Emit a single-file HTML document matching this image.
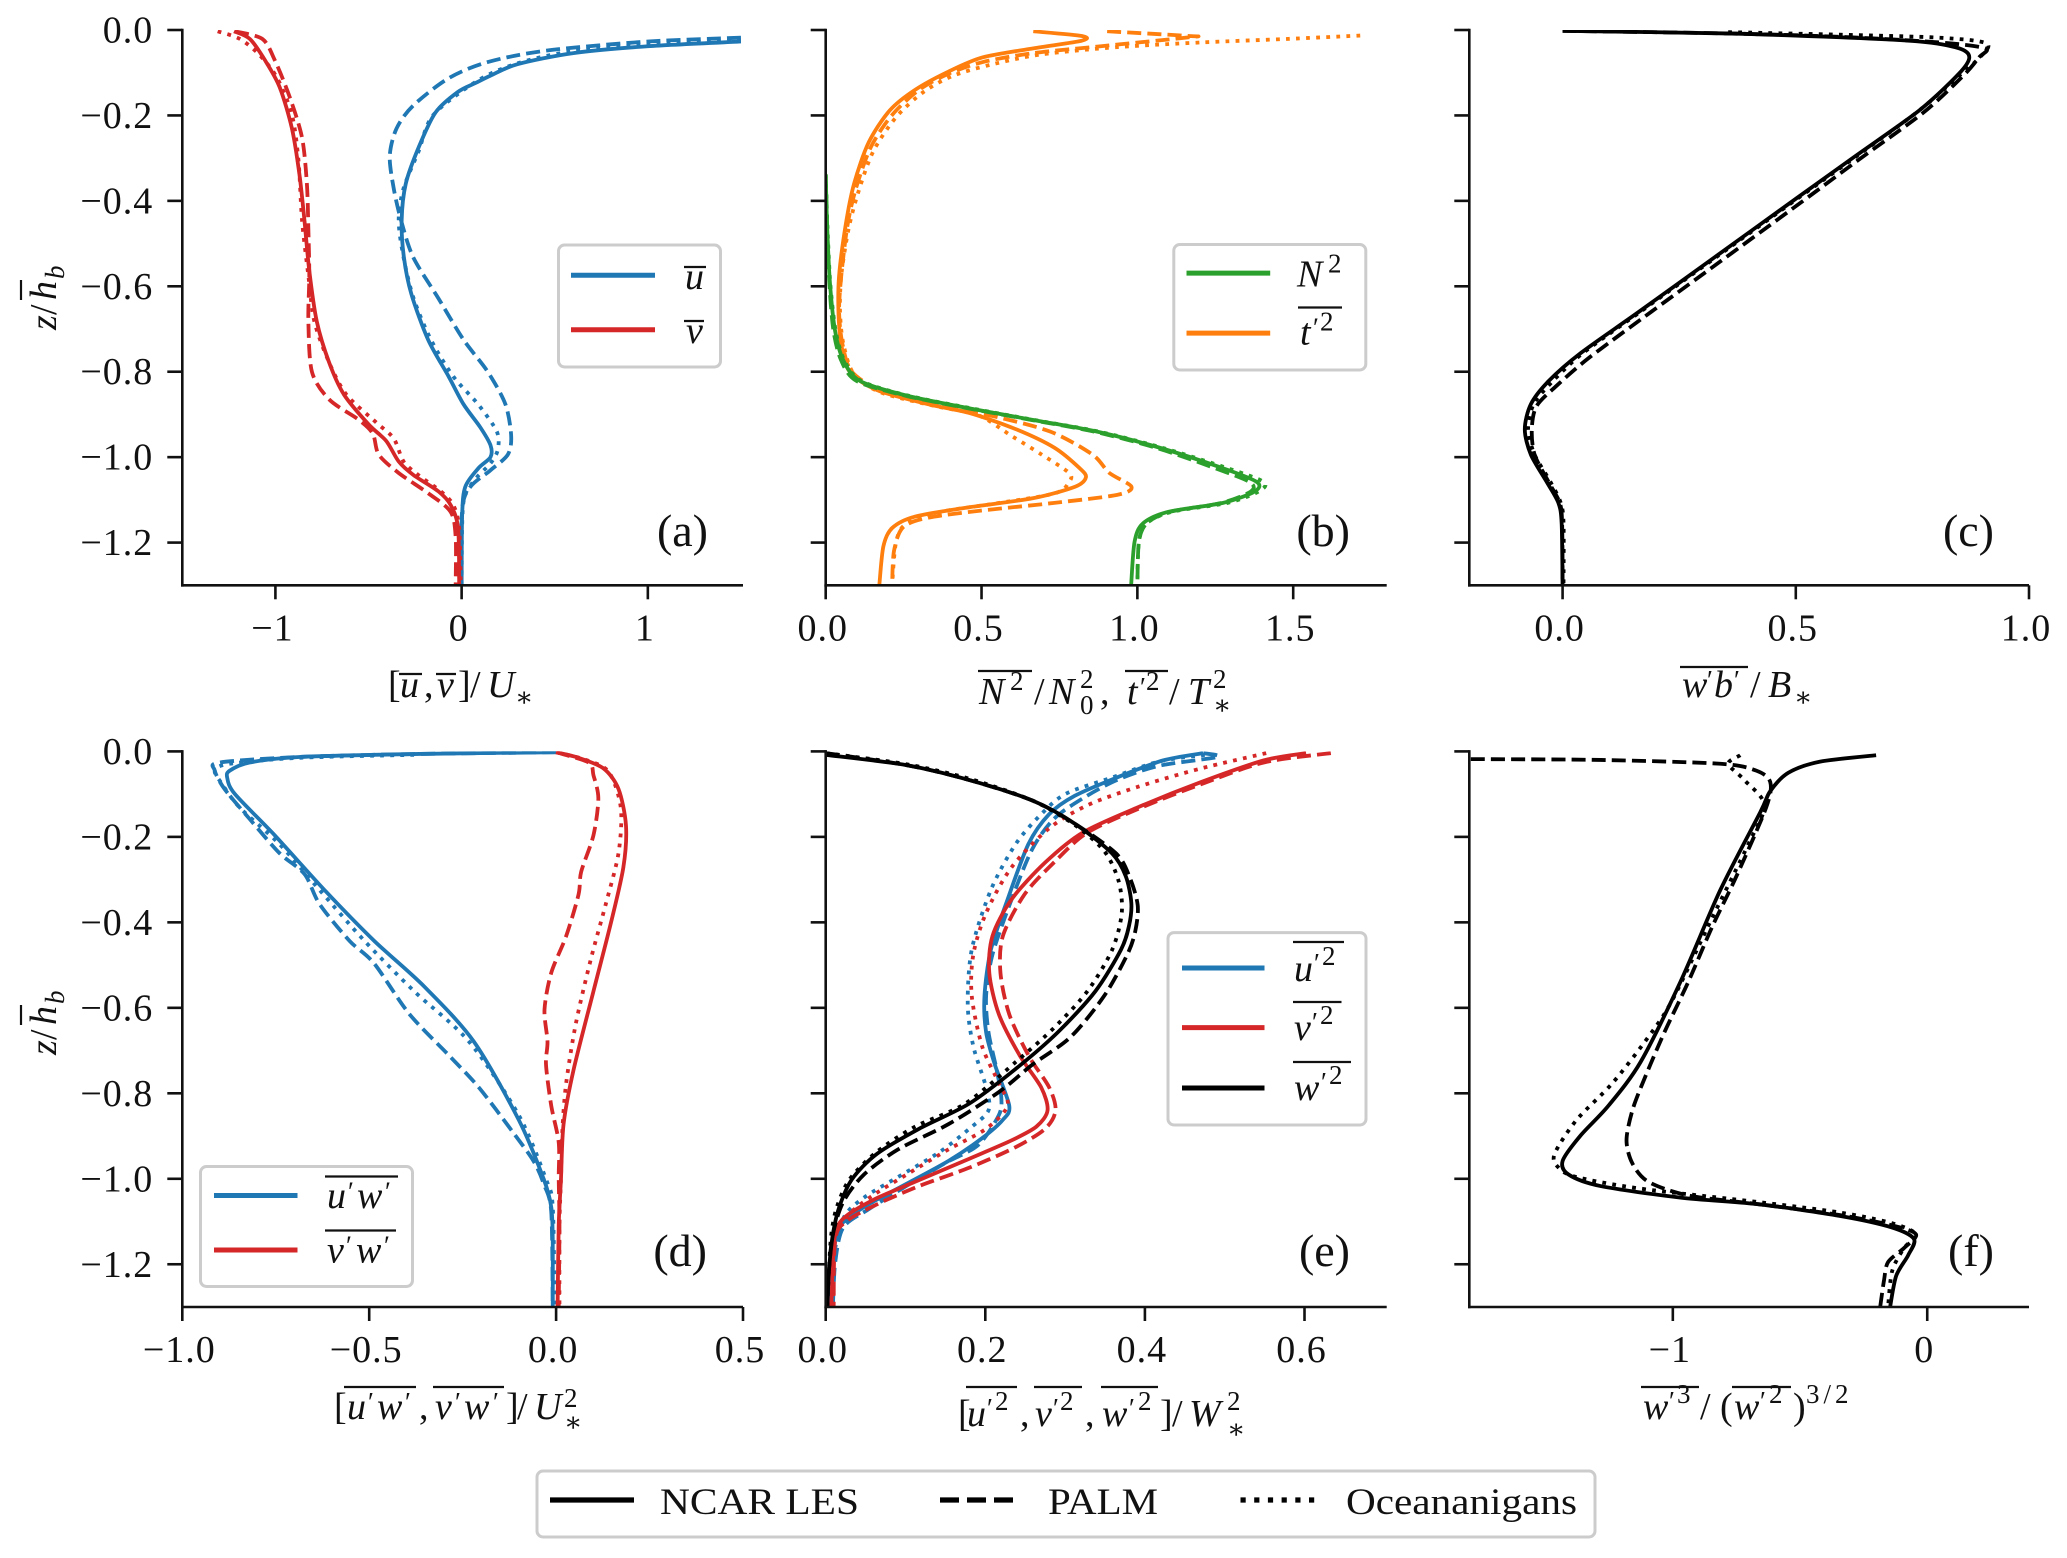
<!DOCTYPE html>
<html lang="en">
<head>
<meta charset="utf-8">
<title>Vertical profiles comparing NCAR LES, PALM and Oceananigans</title>
<style>
html,body{margin:0;padding:0;background:#fff;}
svg{display:block;}
text{font-family:"Liberation Serif","DejaVu Serif",serif;fill:#111;}
.m{font-size:38px;}
.tick{font-size:38px;letter-spacing:1px;}
.i{font-style:italic;}
.s{font-size:27px;}
.s2{font-size:27px;font-style:italic;}
.ov{stroke:#111;stroke-width:2.2;fill:none;}
.lg{fill:#fff;stroke:#ccc;stroke-width:3;}
.pl{font-size:46px;text-anchor:end;}
</style>
</head>
<body>
<svg id="fig" xmlns="http://www.w3.org/2000/svg" width="2067" height="1558" viewBox="0 0 2067 1558">
<defs>
<clipPath id="clip-a"><rect x="182.3" y="30" width="560.7" height="555.3"/></clipPath>
<clipPath id="clip-b"><rect x="825.7" y="30" width="561" height="555.3"/></clipPath>
<clipPath id="clip-c"><rect x="1469.3" y="30" width="559.7" height="555.3"/></clipPath>
<clipPath id="clip-d"><rect x="182.3" y="751.4" width="560.7" height="555.6"/></clipPath>
<clipPath id="clip-e"><rect x="825.7" y="751.4" width="561" height="555.6"/></clipPath>
<clipPath id="clip-f"><rect x="1469.3" y="751.4" width="559.7" height="555.6"/></clipPath>
</defs>

<g id="plots"></g>

<!-- axis titles -->
<g transform="translate(56,330) rotate(-90)">
<text class="m"><tspan class="i" x="0" y="0">z</tspan><tspan x="15" y="0">/</tspan><tspan class="i" x="30" y="0">h</tspan><tspan class="s2" x="51" y="8">b</tspan></text>
<line class="ov" x1="30" x2="50" y1="-35" y2="-35"/>
</g>
<g transform="translate(56,1055) rotate(-90)">
<text class="m"><tspan class="i" x="0" y="0">z</tspan><tspan x="15" y="0">/</tspan><tspan class="i" x="30" y="0">h</tspan><tspan class="s2" x="51" y="8">b</tspan></text>
<line class="ov" x1="30" x2="50" y1="-35" y2="-35"/>
</g>

<g transform="translate(-4,0)">
<text class="m"><tspan x="392" y="697">[</tspan><tspan class="i" x="404" y="697">u</tspan><tspan x="428" y="697">,</tspan><tspan class="i" x="441" y="697">v</tspan><tspan x="462" y="697">]</tspan><tspan x="474" y="697">/</tspan><tspan class="i" x="491" y="697">U</tspan><tspan class="s" x="519" y="706">∗</tspan></text>
<line class="ov" x1="403" x2="426" y1="674" y2="674"/><line class="ov" x1="440" x2="460" y1="674" y2="674"/>
</g>
<g transform="translate(-2,0)">
<text class="m"><tspan class="i" x="981" y="704">N</tspan><tspan class="s" x="1012" y="690">2</tspan><tspan x="1036" y="704">/</tspan><tspan class="i" x="1051" y="704">N</tspan><tspan class="s" x="1082" y="688">2</tspan><tspan class="s" x="1082" y="714">0</tspan><tspan x="1102" y="704">,</tspan><tspan class="i" x="1129" y="704">t</tspan><tspan class="s" x="1142" y="696">′</tspan><tspan class="s" x="1148" y="690">2</tspan><tspan x="1171" y="704">/</tspan><tspan class="i" x="1190" y="704">T</tspan><tspan class="s" x="1215" y="688">2</tspan><tspan class="s" x="1215" y="714">∗</tspan></text>
<line class="ov" x1="980" x2="1034" y1="671" y2="671"/><line class="ov" x1="1127" x2="1170" y1="671" y2="671"/>
</g>
<g transform="translate(-3,0)">
<text class="m"><tspan class="i" x="1685" y="697">w</tspan><tspan class="s" x="1710" y="689">′</tspan><tspan class="i" x="1717" y="697">b</tspan><tspan class="s" x="1737" y="689">′</tspan><tspan x="1753" y="697">/</tspan><tspan class="i" x="1771" y="697">B</tspan><tspan class="s" x="1797" y="706">∗</tspan></text>
<line class="ov" x1="1683" x2="1751" y1="667" y2="667"/>
</g>
<g transform="translate(-3,0)">
<text class="m"><tspan x="337" y="1419">[</tspan><tspan class="i" x="350" y="1419">u</tspan><tspan class="s" x="371" y="1411">′</tspan><tspan class="i" x="380" y="1419">w</tspan><tspan class="s" x="408" y="1411">′</tspan><tspan x="422" y="1419">,</tspan><tspan class="i" x="438" y="1419">v</tspan><tspan class="s" x="458" y="1411">′</tspan><tspan class="i" x="467" y="1419">w</tspan><tspan class="s" x="496" y="1411">′</tspan><tspan x="509" y="1419">]</tspan><tspan x="520" y="1419">/</tspan><tspan class="i" x="537" y="1419">U</tspan><tspan class="s" x="567" y="1407">2</tspan><tspan class="s" x="567" y="1431">∗</tspan></text>
<line class="ov" x1="347" x2="419" y1="1387" y2="1387"/><line class="ov" x1="436" x2="507" y1="1387" y2="1387"/>
</g>
<g transform="translate(-3,0)">
<text class="m"><tspan x="961" y="1426">[</tspan><tspan class="i" x="970" y="1426">u</tspan><tspan class="s" x="990" y="1417">′</tspan><tspan class="s" x="998" y="1410">2</tspan><tspan x="1023" y="1426">,</tspan><tspan class="i" x="1038" y="1426">v</tspan><tspan class="s" x="1056" y="1417">′</tspan><tspan class="s" x="1063" y="1410">2</tspan><tspan x="1088" y="1426">,</tspan><tspan class="i" x="1105" y="1426">w</tspan><tspan class="s" x="1132" y="1417">′</tspan><tspan class="s" x="1141" y="1410">2</tspan><tspan x="1163" y="1426">]</tspan><tspan x="1175" y="1426">/</tspan><tspan class="i" x="1192" y="1426">W</tspan><tspan class="s" x="1230" y="1410">2</tspan><tspan class="s" x="1230" y="1438">∗</tspan></text>
<line class="ov" x1="969" x2="1020" y1="1387" y2="1387"/><line class="ov" x1="1037" x2="1085" y1="1387" y2="1387"/><line class="ov" x1="1104" x2="1161" y1="1387" y2="1387"/>
</g>
<g transform="translate(-3,0)">
<text class="m"><tspan class="i" x="1646" y="1419">w</tspan><tspan class="s" x="1672" y="1410">′</tspan><tspan class="s" x="1680" y="1403">3</tspan><tspan x="1703" y="1419">/</tspan><tspan x="1723" y="1419">(</tspan><tspan class="i" x="1737" y="1419">w</tspan><tspan class="s" x="1763" y="1410">′</tspan><tspan class="s" x="1772" y="1403">2</tspan><tspan x="1796" y="1419">)</tspan><tspan class="s" x="1809" y="1403" style="letter-spacing:4px">3/2</tspan></text>
<line class="ov" x1="1644" x2="1702" y1="1387" y2="1387"/><line class="ov" x1="1735" x2="1794" y1="1387" y2="1387"/>
</g>

<!-- panel letters -->
<text class="pl" x="708" y="546">(a)</text>
<text class="pl" x="1350" y="546">(b)</text>
<text class="pl" x="1994" y="546">(c)</text>
<text class="pl" x="707" y="1266">(d)</text>
<text class="pl" x="1350" y="1266">(e)</text>
<text class="pl" x="1994" y="1266">(f)</text>

<!-- legends -->
<g transform="translate(-4,-2)">
<rect class="lg" x="562.5" y="247" width="162" height="122" rx="6"/>
<line x1="575" x2="659" y1="277.3" y2="277.3" stroke="#1f77b4" stroke-width="5"/>
<line x1="575" x2="659" y1="331.8" y2="331.8" stroke="#d62728" stroke-width="5"/>
<text class="m"><tspan class="i" x="689" y="291">u</tspan></text>
<line class="ov" x1="688" x2="710" y1="269" y2="269"/>
<text class="m"><tspan class="i" x="690" y="345">v</tspan></text>
<line class="ov" x1="688" x2="708" y1="323" y2="323"/>
</g>
<g transform="translate(-3,-1.5)">
<rect class="lg" x="1176.8" y="246" width="192" height="125.5" rx="6"/>
<line x1="1189.5" x2="1273.2" y1="274.6" y2="274.6" stroke="#2ca02c" stroke-width="5"/>
<line x1="1189.5" x2="1273.2" y1="334.6" y2="334.6" stroke="#ff7f0e" stroke-width="5"/>
<text class="m"><tspan class="i" x="1300" y="288">N</tspan><tspan class="s" x="1331" y="274">2</tspan></text>
<text class="m"><tspan class="i" x="1303" y="346">t</tspan><tspan class="s" x="1316" y="338">′</tspan><tspan class="s" x="1323" y="332">2</tspan></text>
<line class="ov" x1="1301" x2="1345" y1="309" y2="309"/>
</g>
<g transform="translate(-1,-3.5)">
<rect class="lg" x="201.5" y="1170" width="212" height="120" rx="6"/>
<line x1="215" x2="298.5" y1="1199" y2="1199" stroke="#1f77b4" stroke-width="5"/>
<line x1="215" x2="298.5" y1="1253.5" y2="1253.5" stroke="#d62728" stroke-width="5"/>
<text class="m"><tspan class="i" x="328" y="1211.5">u</tspan><tspan class="s" x="349" y="1204">′</tspan><tspan class="i" x="358" y="1211.5">w</tspan><tspan class="s" x="386" y="1204">′</tspan></text>
<line class="ov" x1="326" x2="399" y1="1180" y2="1180"/>
<text class="m"><tspan class="i" x="328" y="1266">v</tspan><tspan class="s" x="347" y="1258">′</tspan><tspan class="i" x="357" y="1266">w</tspan><tspan class="s" x="385" y="1258">′</tspan></text>
<line class="ov" x1="326" x2="397" y1="1234" y2="1234"/>
</g>
<g transform="translate(-2,-2)">
<rect class="lg" x="1170" y="934.6" width="198" height="192.4" rx="6"/>
<line x1="1184" x2="1266.5" y1="970" y2="970" stroke="#1f77b4" stroke-width="5"/>
<line x1="1184" x2="1266.5" y1="1029.6" y2="1029.6" stroke="#d62728" stroke-width="5"/>
<line x1="1184" x2="1266.5" y1="1090" y2="1090" stroke="#000" stroke-width="5"/>
<text class="m"><tspan class="i" x="1296" y="983">u</tspan><tspan class="s" x="1316" y="974">′</tspan><tspan class="s" x="1324" y="967">2</tspan></text>
<line class="ov" x1="1295" x2="1346" y1="944" y2="944"/>
<text class="m"><tspan class="i" x="1296" y="1042">v</tspan><tspan class="s" x="1314" y="1033">′</tspan><tspan class="s" x="1322" y="1026">2</tspan></text>
<line class="ov" x1="1295" x2="1343.5" y1="1004" y2="1004"/>
<text class="m"><tspan class="i" x="1296" y="1102">w</tspan><tspan class="s" x="1323" y="1093">′</tspan><tspan class="s" x="1331" y="1086">2</tspan></text>
<line class="ov" x1="1295" x2="1353" y1="1064" y2="1064"/>
</g>
<g>
<rect class="lg" x="537" y="1471" width="1058" height="66" rx="6"/>
<line x1="550" x2="634" y1="1500" y2="1500" stroke="#000" stroke-width="5.2"/>
<line x1="940" x2="1020" y1="1500" y2="1500" stroke="#000" stroke-width="5.2" stroke-dasharray="19 8"/>
<line x1="1240.5" x2="1320" y1="1500" y2="1500" stroke="#000" stroke-width="5.2" stroke-dasharray="5.2 8.5"/>
<text class="m" x="660" y="1514" textLength="199" lengthAdjust="spacingAndGlyphs" style="font-size:37px">NCAR LES</text>
<text class="m" x="1048" y="1514" textLength="110" lengthAdjust="spacingAndGlyphs" style="font-size:37px">PALM</text>
<text class="m" x="1346" y="1514" textLength="231" lengthAdjust="spacingAndGlyphs" style="font-size:37px">Oceananigans</text>
</g>
</svg>

<script>
// ---- tick data ----
const yTicks = [0, -0.2, -0.4, -0.6, -0.8, -1.0, -1.2];
const yTickLabels = ['0.0', '−0.2', '−0.4', '−0.6', '−0.8', '−1.0', '−1.2'];
const xTicksA = [-1, 0, 1];
const xLabelsA = ['−1', '0', '1'];
const xTicksB = [0, 0.5, 1, 1.5];
const xLabelsB = ['0.0', '0.5', '1.0', '1.5'];
const xTicksC = [0, 0.5, 1];
const xLabelsC = ['0.0', '0.5', '1.0'];
const xTicksD = [-1, -0.5, 0, 0.5];
const xLabelsD = ['−1.0', '−0.5', '0.0', '0.5'];
const xTicksE = [0, 0.2, 0.4, 0.6];
const xLabelsE = ['0.0', '0.2', '0.4', '0.6'];
const xTicksF = [-1, 0];
const xLabelsF = ['−1', '0'];

// ---- panel (a) mean velocities ----
const aUSolidZ = [-.027,-.038,-.054,-.08,-.107,-.124,-.145,-.193,-.274,-.36,-.446,-.532,-.618,-.725,-.811,-.876,-.93,-.972,-1,-1.026,-1.069,-1.133,-1.3];
const aUSolidX = [1.5,1.0,.6,.3,.154,.075,-.02,-.14,-.23,-.3,-.322,-.31,-.27,-.18,-.07,.01,.1,.155,.155,.09,.02,.003,0];
const aUDashZ = [-.018,-.027,-.048,-.075,-.113,-.177,-.231,-.295,-.37,-.446,-.532,-.628,-.725,-.8,-.876,-.95,-.994,-1.031,-1.069,-1.122,-1.3];
const aUDashX = [1.5,1.0,.46,.14,-.07,-.26,-.35,-.386,-.365,-.325,-.26,-.125,.01,.14,.235,.266,.248,.154,.048,.003,0];
const aUDotZ = [-.025,-.034,-.05,-.078,-.118,-.199,-.285,-.371,-.446,-.532,-.628,-.725,-.811,-.876,-.94,-.983,-1.015,-1.058,-1.112,-1.3];
const aUDotX = [1.5,.99,.59,.3,.088,-.152,-.232,-.312,-.338,-.312,-.258,-.165,-.045,.088,.189,.194,.154,.061,.008,0];
const aVSolidZ = [-.003,-.021,-.07,-.134,-.231,-.338,-.446,-.564,-.682,-.779,-.854,-.924,-.962,-1.01,-1.042,-1.08,-1.112,-1.166,-1.3];
const aVSolidX = [-1.222,-1.137,-1.057,-.977,-.911,-.871,-.844,-.818,-.778,-.711,-.631,-.498,-.405,-.338,-.258,-.125,-.059,-.019,-.013];
const aVDashZ = [-.003,-.021,-.07,-.156,-.252,-.36,-.467,-.575,-.682,-.8,-.865,-.913,-.945,-.994,-1.037,-1.085,-1.128,-1.187,-1.3];
const aVDashX = [-1.217,-1.07,-1.004,-.924,-.857,-.831,-.823,-.818,-.823,-.804,-.711,-.551,-.477,-.445,-.338,-.178,-.059,-.032,-.032];
const aVDotZ = [-.003,-.021,-.059,-.113,-.199,-.306,-.446,-.575,-.682,-.779,-.854,-.919,-.956,-1.01,-1.042,-1.08,-1.112,-1.166,-1.3];
const aVDotX = [-1.31,-1.19,-1.084,-.99,-.911,-.876,-.857,-.823,-.791,-.711,-.618,-.458,-.365,-.312,-.232,-.112,-.045,-.013,-.005];

// ---- panel (b) stratification and tracer variance ----
const bNZ = [-.338,-.467,-.596,-.704,-.774,-.822,-.856,-.886,-.913,-.94,-.978,-1.026,-1.058,-1.08,-1.107,-1.128,-1.155,-1.198,-1.3];
const bNSolidX = [0,.005,.014,.03,.057,.111,.26,.463,.666,.869,1.072,1.275,1.383,1.377,1.275,1.099,1.018,.991,.98];
const bNDashX = [0,.005,.012,.025,.05,.1,.255,.46,.66,.86,1.06,1.25,1.36,1.365,1.27,1.105,1.03,1.005,1.0];
const bNDotX = [0,.006,.015,.032,.06,.115,.265,.47,.67,.875,1.08,1.29,1.405,1.39,1.29,1.11,1.03,1.005,1.0];
const bTSolidZ = [-.003,-.014,-.025,-.043,-.064,-.097,-.14,-.188,-.263,-.36,-.457,-.575,-.661,-.736,-.8,-.843,-.876,-.897,-.935,-.978,-1.026,-1.047,-1.069,-1.096,-1.117,-1.139,-1.166,-1.209,-1.3];
const bTSolidX = [.666,.822,.822,.666,.504,.395,.287,.206,.138,.091,.064,.043,.041,.05,.077,.165,.328,.463,.612,.734,.815,.835,.801,.666,.463,.287,.213,.185,.172];
const bTDashZ = [-.003,-.014,-.017,-.038,-.054,-.075,-.102,-.14,-.199,-.274,-.371,-.457,-.575,-.661,-.736,-.8,-.845,-.876,-.903,-.94,-.994,-1.037,-1.069,-1.088,-1.107,-1.128,-1.144,-1.166,-1.22,-1.3];
const bTDashX = [.903,1.167,1.167,.883,.666,.504,.395,.3,.213,.145,.097,.07,.05,.043,.054,.084,.179,.341,.531,.72,.856,.91,.981,.937,.734,.463,.314,.246,.219,.213];
const bTDotZ = [-.013,-.021,-.029,-.04,-.057,-.081,-.107,-.145,-.204,-.285,-.381,-.467,-.575,-.661,-.736,-.806,-.849,-.881,-.902,-.951,-.994,-1.037,-1.058,-1.085,-1.11,-1.128,-1.155,-1.198,-1.3];
const bTDotX = [1.715,1.478,1.208,.937,.693,.531,.409,.314,.226,.152,.104,.073,.05,.046,.057,.091,.179,.355,.49,.598,.693,.781,.781,.734,.531,.369,.26,.226,.213];

// ---- panel (c) buoyancy flux ----
const cSolidZ = [-.002,-.008,-.017,-.027,-.043,-.064,-.102,-.188,-.295,-.392,-.532,-.661,-.757,-.822,-.876,-.935,-.994,-1.058,-1.107,-1.155,-1.3];
const cSolidX = [0,.35,.594,.765,.85,.872,.85,.765,.628,.504,.326,.162,.038,-.03,-.068,-.081,-.068,-.034,-.009,-.002,0];
const cDashZ = [-.002,-.008,-.016,-.029,-.043,-.064,-.107,-.193,-.306,-.403,-.542,-.671,-.768,-.833,-.881,-.935,-.994,-1.058,-1.107,-1.155,-1.3];
const cDashX = [0,.35,.594,.808,.906,.893,.859,.774,.632,.512,.338,.176,.056,-.013,-.056,-.066,-.06,-.03,-.006,-.001,0];
const cDotZ = [-.005,-.011,-.018,-.032,-.07,-.107,-.188,-.295,-.392,-.532,-.661,-.757,-.822,-.876,-.935,-.994,-1.058,-1.107,-1.155,-1.3];
const cDotX = [.355,.594,.808,.91,.889,.85,.765,.631,.507,.329,.165,.043,-.021,-.062,-.074,-.06,-.026,-.004,.002,.002];

// ---- panel (d) momentum fluxes ----
const dUSolidZ = [-.002,-.006,-.013,-.026,-.045,-.061,-.099,-.196,-.324,-.443,-.55,-.679,-.862,-1.001,-1.066,-1.141,-1.3];
const dUSolidX = [0,-.367,-.687,-.82,-.873,-.88,-.86,-.753,-.62,-.487,-.353,-.22,-.1,-.033,-.013,-.009,-.009];
const dUDashZ = [-.002,-.006,-.013,-.026,-.045,-.088,-.158,-.238,-.287,-.357,-.443,-.496,-.614,-.711,-.786,-.894,-.959,-1.012,-1.077,-1.3];
const dUDashX = [0,-.367,-.687,-.9,-.913,-.887,-.82,-.74,-.673,-.633,-.553,-.487,-.393,-.287,-.207,-.113,-.06,-.033,-.013,-.009];
const dUDotZ = [-.008,-.015,-.029,-.045,-.077,-.131,-.217,-.324,-.443,-.561,-.679,-.851,-1.001,-1.066,-1.3];
const dUDotX = [-.38,-.687,-.873,-.913,-.893,-.847,-.74,-.633,-.513,-.38,-.233,-.1,-.027,-.009,-.004];
const dVSolidZ = [-.002,-.015,-.04,-.088,-.174,-.271,-.4,-.561,-.744,-.872,-1.001,-1.109,-1.3];
const dVSolidX = [0,.06,.127,.167,.187,.18,.147,.1,.047,.02,.013,.007,.004];
const dVDashZ = [-.002,-.026,-.056,-.11,-.196,-.282,-.335,-.432,-.518,-.604,-.679,-.733,-.829,-.915,-1.001,-1.109,-1.3];
const dVDashX = [0,.087,.1,.113,.1,.067,.06,.027,-.013,-.031,-.023,-.027,-.013,.007,.007,.009,.007];
const dVDotZ = [-.002,-.018,-.047,-.131,-.238,-.357,-.486,-.636,-.776,-.883,-1.001,-1.109,-1.3];
const dVDotX = [0,.073,.14,.173,.167,.133,.093,.053,.027,.017,.013,.009,.009];

// ---- panel (e) velocity variances ----
const eUSolidZ = [-.004,-.021,-.061,-.104,-.147,-.217,-.346,-.464,-.572,-.657,-.733,-.829,-.862,-.905,-.958,-1.012,-1.066,-1.114,-1.195,-1.3];
const eUSolidX = [.473,.423,.365,.312,.28,.254,.228,.207,.199,.201,.212,.23,.222,.196,.154,.101,.048,.017,.009,.005];
const eUDashZ = [-.004,-.013,-.034,-.067,-.11,-.158,-.228,-.346,-.475,-.572,-.657,-.743,-.808,-.851,-.921,-.964,-1.017,-1.071,-1.114,-1.195,-1.3];
const eUDashX = [.473,.491,.417,.365,.322,.286,.259,.233,.209,.201,.204,.214,.22,.217,.191,.149,.101,.054,.022,.012,.009];
const eUDotZ = [-.008,-.024,-.061,-.099,-.147,-.217,-.324,-.464,-.593,-.69,-.786,-.84,-.883,-.937,-.99,-1.044,-1.093,-1.195,-1.3];
const eUDotX = [.475,.417,.359,.301,.27,.238,.207,.183,.178,.185,.201,.204,.18,.143,.096,.048,.022,.009,.007];
const eVSolidZ = [-.004,-.021,-.072,-.131,-.19,-.26,-.346,-.432,-.518,-.615,-.711,-.786,-.84,-.878,-.91,-.953,-1.007,-1.05,-1.093,-1.141,-1.3];
const eVSolidX = [.602,.549,.47,.391,.322,.275,.233,.209,.205,.217,.243,.27,.278,.264,.233,.18,.112,.059,.022,.011,.007];
const eVDashZ = [-.004,-.026,-.077,-.131,-.19,-.26,-.335,-.432,-.518,-.615,-.711,-.786,-.84,-.883,-.926,-.974,-1.017,-1.06,-1.098,-1.141,-1.3];
const eVDashX = [.633,.549,.47,.396,.328,.286,.249,.222,.219,.23,.254,.28,.288,.275,.238,.18,.117,.064,.027,.012,.01];
const eVDotZ = [-.004,-.04,-.083,-.126,-.18,-.271,-.378,-.475,-.572,-.69,-.776,-.829,-.883,-.931,-.985,-1.039,-1.087,-1.141,-1.3];
const eVDotX = [.552,.47,.391,.328,.28,.233,.201,.185,.183,.196,.217,.228,.201,.154,.106,.059,.027,.012,.009];
const eWSolidZ = [-.008,-.032,-.067,-.115,-.169,-.239,-.292,-.355,-.409,-.464,-.561,-.657,-.743,-.824,-.883,-.942,-1.001,-1.066,-1.13,-1.216,-1.3];
const eWSolidX = [0,.101,.18,.259,.312,.359,.376,.383,.38,.37,.338,.291,.238,.18,.117,.064,.033,.017,.009,.004,.002];
const eWDashZ = [-.004,-.032,-.067,-.115,-.169,-.239,-.295,-.36,-.42,-.475,-.572,-.668,-.733,-.797,-.872,-.931,-.99,-1.054,-1.13,-1.216,-1.3];
const eWDashX = [0,.101,.18,.259,.312,.364,.381,.391,.388,.378,.349,.307,.259,.217,.154,.091,.048,.022,.009,.004,.002];
const eWDotZ = [-.004,-.03,-.064,-.115,-.172,-.233,-.303,-.378,-.464,-.561,-.647,-.727,-.824,-.878,-.937,-1.001,-1.066,-1.13,-1.216,-1.3];
const eWDotX = [0,.101,.18,.259,.312,.349,.367,.371,.359,.328,.286,.238,.175,.112,.064,.03,.014,.007,.004,.002];

// ---- panel (f) vertical velocity skewness ----
const fSolidZ = [-.009,-.024,-.05,-.093,-.142,-.324,-.539,-.727,-.829,-.899,-.958,-.99,-1.017,-1.044,-1.06,-1.087,-1.114,-1.141,-1.179,-1.227,-1.3];
const fSolidX = [-.201,-.421,-.546,-.617,-.656,-.813,-.97,-1.127,-1.253,-1.363,-1.433,-1.41,-1.284,-.97,-.656,-.342,-.138,-.052,-.075,-.122,-.146];
const fDashZ = [-.018,-.02,-.029,-.045,-.072,-.131,-.292,-.41,-.539,-.657,-.765,-.84,-.91,-.964,-1.007,-1.039,-1.06,-1.085,-1.109,-1.13,-1.162,-1.195,-1.238,-1.3];
const fDashX = [-1.794,-1.284,-.813,-.672,-.617,-.633,-.75,-.845,-.939,-1.033,-1.111,-1.159,-1.182,-1.159,-1.096,-.939,-.656,-.342,-.138,-.044,-.091,-.154,-.17,-.185];
const fDotZ = [-.009,-.029,-.067,-.126,-.217,-.389,-.582,-.668,-.776,-.862,-.942,-.974,-.996,-1.023,-1.055,-1.079,-1.104,-1.13,-1.162,-1.216,-1.3];
const fDotX = [-.735,-.782,-.719,-.64,-.703,-.845,-1.002,-1.096,-1.237,-1.378,-1.465,-1.449,-1.378,-1.127,-.656,-.342,-.138,-.044,-.091,-.138,-.154];

const BLUE = '#1f77b4', RED = '#d62728', GREEN = '#2ca02c', ORANGE = '#ff7f0e', BLACK = '#000';
const panels = [
  {id:'a', box:[182.3,743,30,585.3], xlim:[-1.5,1.511], ticks:xTicksA, labels:xLabelsA, showY:true, series:[
    ['u-ncar',aUSolidZ,aUSolidX,BLUE,'solid'],['u-palm',aUDashZ,aUDashX,BLUE,'dash'],['u-oceananigans',aUDotZ,aUDotX,BLUE,'dot'],
    ['v-ncar',aVSolidZ,aVSolidX,RED,'solid'],['v-palm',aVDashZ,aVDashX,RED,'dash'],['v-oceananigans',aVDotZ,aVDotX,RED,'dot']]},
  {id:'b', box:[825.7,1386.7,30,585.3], xlim:[0,1.8], ticks:xTicksB, labels:xLabelsB, showY:false, series:[
    ['t2-ncar',bTSolidZ,bTSolidX,ORANGE,'solid'],['t2-palm',bTDashZ,bTDashX,ORANGE,'dash'],['t2-oceananigans',bTDotZ,bTDotX,ORANGE,'dot'],
    ['n2-ncar',bNZ,bNSolidX,GREEN,'solid'],['n2-palm',bNZ,bNDashX,GREEN,'dash'],['n2-oceananigans',bNZ,bNDotX,GREEN,'dot']]},
  {id:'c', box:[1469.3,2029,30,585.3], xlim:[-0.2,1], ticks:xTicksC, labels:xLabelsC, showY:false, series:[
    ['wb-ncar',cSolidZ,cSolidX,BLACK,'solid'],['wb-palm',cDashZ,cDashX,BLACK,'dash'],['wb-oceananigans',cDotZ,cDotX,BLACK,'dot']]},
  {id:'d', box:[182.3,743,751.4,1307], xlim:[-1,0.5], ticks:xTicksD, labels:xLabelsD, showY:true, series:[
    ['uw-ncar',dUSolidZ,dUSolidX,BLUE,'solid'],['uw-palm',dUDashZ,dUDashX,BLUE,'dash'],['uw-oceananigans',dUDotZ,dUDotX,BLUE,'dot'],
    ['vw-ncar',dVSolidZ,dVSolidX,RED,'solid'],['vw-palm',dVDashZ,dVDashX,RED,'dash'],['vw-oceananigans',dVDotZ,dVDotX,RED,'dot']]},
  {id:'e', box:[825.7,1386.7,751.4,1307], xlim:[0,0.703], ticks:xTicksE, labels:xLabelsE, showY:false, series:[
    ['u2-ncar',eUSolidZ,eUSolidX,BLUE,'solid'],['u2-palm',eUDashZ,eUDashX,BLUE,'dash'],['u2-oceananigans',eUDotZ,eUDotX,BLUE,'dot'],
    ['v2-ncar',eVSolidZ,eVSolidX,RED,'solid'],['v2-palm',eVDashZ,eVDashX,RED,'dash'],['v2-oceananigans',eVDotZ,eVDotX,RED,'dot'],
    ['w2-ncar',eWSolidZ,eWSolidX,BLACK,'solid'],['w2-palm',eWDashZ,eWDashX,BLACK,'dash'],['w2-oceananigans',eWDotZ,eWDotX,BLACK,'dot']]},
  {id:'f', box:[1469.3,2029,751.4,1307], xlim:[-1.8,0.4], ticks:xTicksF, labels:xLabelsF, showY:false, series:[
    ['skew-ncar',fSolidZ,fSolidX,BLACK,'solid'],['skew-palm',fDashZ,fDashX,BLACK,'dash'],['skew-oceananigans',fDotZ,fDotX,BLACK,'dot']]}
];

const NS = 'http://www.w3.org/2000/svg';
const LW = 3.8;
const root = document.getElementById('plots');

function smoothPath(pts) {
  let d = 'M' + pts[0][0].toFixed(2) + ' ' + pts[0][1].toFixed(2);
  for (let i = 0; i < pts.length - 1; i++) {
    const p0 = pts[Math.max(i - 1, 0)], p1 = pts[i], p2 = pts[i + 1], p3 = pts[Math.min(i + 2, pts.length - 1)];
    const t = 1 / 7;
    const c1x = p1[0] + (p2[0] - p0[0]) * t, c1y = p1[1] + (p2[1] - p0[1]) * t;
    const c2x = p2[0] - (p3[0] - p1[0]) * t, c2y = p2[1] - (p3[1] - p1[1]) * t;
    d += 'C' + c1x.toFixed(2) + ' ' + c1y.toFixed(2) + ' ' + c2x.toFixed(2) + ' ' + c2y.toFixed(2) + ' ' + p2[0].toFixed(2) + ' ' + p2[1].toFixed(2);
  }
  return d;
}

function makeLine(x1, y1, x2, y2, width) {
  const l = document.createElementNS(NS, 'line');
  l.setAttribute('x1', x1);
  l.setAttribute('y1', y1);
  l.setAttribute('x2', x2);
  l.setAttribute('y2', y2);
  l.setAttribute('stroke', '#111');
  l.setAttribute('stroke-width', width);
  return l;
}

panels.forEach(function (p) {
  const left = p.box[0], right = p.box[1], top = p.box[2], bottom = p.box[3];
  const xScale = function (v) { return left + (v - p.xlim[0]) / (p.xlim[1] - p.xlim[0]) * (right - left); };
  const yScale = function (z) { return top + (0 - z) / 1.3 * (bottom - top); };

  const g = document.createElementNS(NS, 'g');
  
  
  root.appendChild(g);

  const lines = document.createElementNS(NS, 'g');
  lines.setAttribute('clip-path', 'url(#clip-' + p.id + ')');
  
  
  g.appendChild(lines);

  p.series.forEach(function (s) {
    const zs = s[1], xs = s[2];
    const pts = zs.map(function (z, i) { return [xScale(xs[i]), yScale(z)]; });
    const path = document.createElementNS(NS, 'path');
    path.setAttribute('d', smoothPath(pts));
    path.setAttribute('fill', 'none');
    path.setAttribute('stroke', s[3]);
    path.setAttribute('stroke-width', LW);
    path.setAttribute('stroke-linejoin', 'round');
    if (s[4] === 'dash') path.setAttribute('stroke-dasharray', (LW * 3.7).toFixed(2) + ' ' + (LW * 1.6).toFixed(2));
    if (s[4] === 'dot') path.setAttribute('stroke-dasharray', LW.toFixed(2) + ' ' + (LW * 1.65).toFixed(2));
    
    
    lines.appendChild(path);
  });

  const leftSpine = makeLine(left, top - 1.3, left, bottom + 1.3, 2.6);
  
  
  g.appendChild(leftSpine);

  const bottomSpine = makeLine(left - 1.3, bottom, right, bottom, 2.6);
  
  
  g.appendChild(bottomSpine);

  yTicks.forEach(function (t, i) {
    const y = yScale(t);
    const tick = makeLine(left - 15, y, left, y, 2.6);
    
    
    g.appendChild(tick);
    if (p.showY) {
      const label = document.createElementNS(NS, 'text');
      label.setAttribute('class', 'tick');
      label.setAttribute('x', left - 29);
      label.setAttribute('y', y + 12.5);
      label.setAttribute('text-anchor', 'end');
      
      
      label.textContent = yTickLabels[i];
      g.appendChild(label);
    }
  });

  p.ticks.forEach(function (t, i) {
    const x = xScale(t);
    const tick = makeLine(x, bottom, x, bottom + 14, 2.6);
    
    
    g.appendChild(tick);
    const label = document.createElementNS(NS, 'text');
    label.setAttribute('class', 'tick');
    label.setAttribute('x', x - 3);
    label.setAttribute('y', bottom + 55);
    label.setAttribute('text-anchor', 'middle');
    
    
    label.textContent = p.labels[i];
    g.appendChild(label);
  });
});
</script>
</body>
</html>
